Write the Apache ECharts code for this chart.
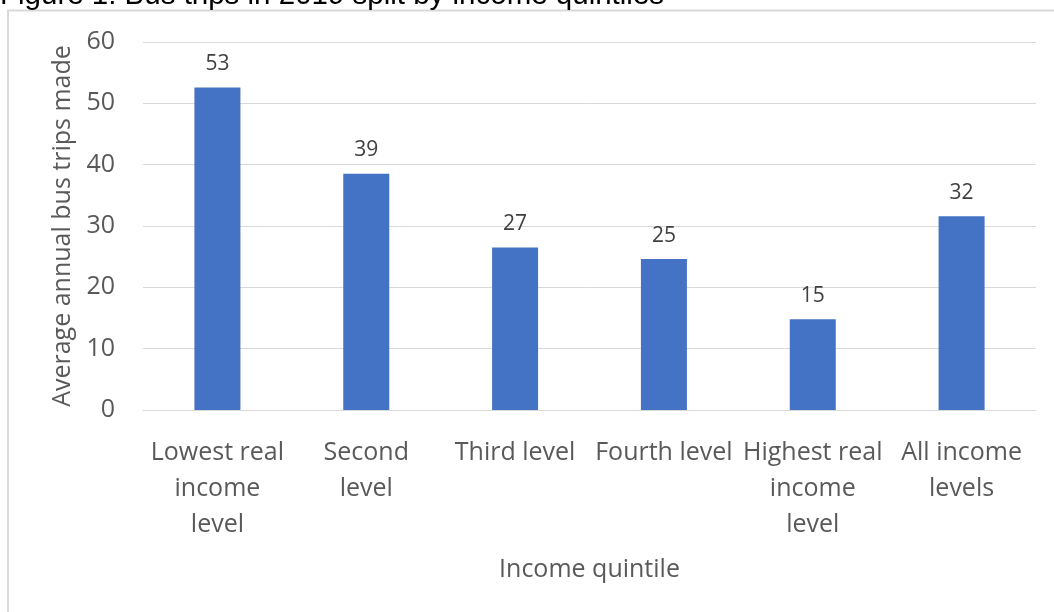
<!DOCTYPE html>
<html>
<head>
<meta charset="utf-8">
<script src="https://cdn.jsdelivr.net/npm/echarts@6/dist/echarts.min.js"></script>
<style>html,body{margin:0;padding:0;background:#fff;}#c{width:1054px;height:612px;}</style>
</head>
<body>
<div id="c"></div>
<script>
const titleText = "Figure 1: Bus trips in 2019 split by income quintiles";
const categories = ["Lowest real\nincome\nlevel", "Second\nlevel", "Third level", "Fourth level", "Highest real\nincome\nlevel", "All income\nlevels"];
const tripValues = [52.6, 38.5, 26.5, 24.6, 14.8, 31.6];
const yTicks = [0, 10, 20, 30, 40, 50, 60];
const yAxisTitle = "Average annual bus trips made";
const xAxisTitle = "Income quintile";

const FONT = "'Open Sans', sans-serif";
const chart = echarts.init(document.getElementById('c'), null, {renderer: 'canvas'});
chart.setOption({
  animation: false,
  backgroundColor: '#fff',
  graphic: [
    {type: 'rect', shape: {x: 8, y: 10.5, width: 1200, height: 800}, style: {fill: 'none', stroke: '#d9d9d9', lineWidth: 2}, silent: true, z: 0},
    {type: 'text', x: 0, y: -4, style: {text: titleText, font: '29.5px "Liberation Sans", Arial, sans-serif', fill: '#000', verticalAlign: 'middle', align: 'left'}, z: 10}
  ],
  grid: {left: 143, right: 18, top: 42, bottom: 202, containLabel: false},
  xAxis: {
    type: 'category',
    data: categories,
    name: xAxisTitle,
    nameLocation: 'middle',
    nameGap: 147,
    nameTextStyle: {fontFamily: FONT, fontSize: 25, color: '#595959'},
    axisLine: {show: true, lineStyle: {color: '#d9d9d9', width: 1}},
    axisTick: {show: false},
    axisLabel: {fontFamily: FONT, fontSize: 25, color: '#595959', lineHeight: 36, margin: 25, interval: 0}
  },
  yAxis: {
    type: 'value',
    min: yTicks[0],
    max: yTicks[yTicks.length - 1],
    interval: 10,
    name: yAxisTitle,
    nameLocation: 'middle',
    nameGap: 67,
    nameRotate: 90,
    nameTextStyle: {fontFamily: FONT, fontSize: 25, color: '#595959'},
    axisLine: {show: false},
    axisTick: {show: false},
    axisLabel: {fontFamily: FONT, fontSize: 25, color: '#595959', margin: 28},
    splitLine: {lineStyle: {color: '#d9d9d9', width: 1}}
  },
  series: [{
    type: 'bar',
    data: tripValues,
    barWidth: 46,
    itemStyle: {color: '#4472C4'},
    label: {
      show: true,
      position: 'top',
      distance: 13,
      fontFamily: FONT,
      fontSize: 21,
      color: '#404040',
      formatter: p => Math.round(p.value)
    }
  }]
});
</script>
</body>
</html>
